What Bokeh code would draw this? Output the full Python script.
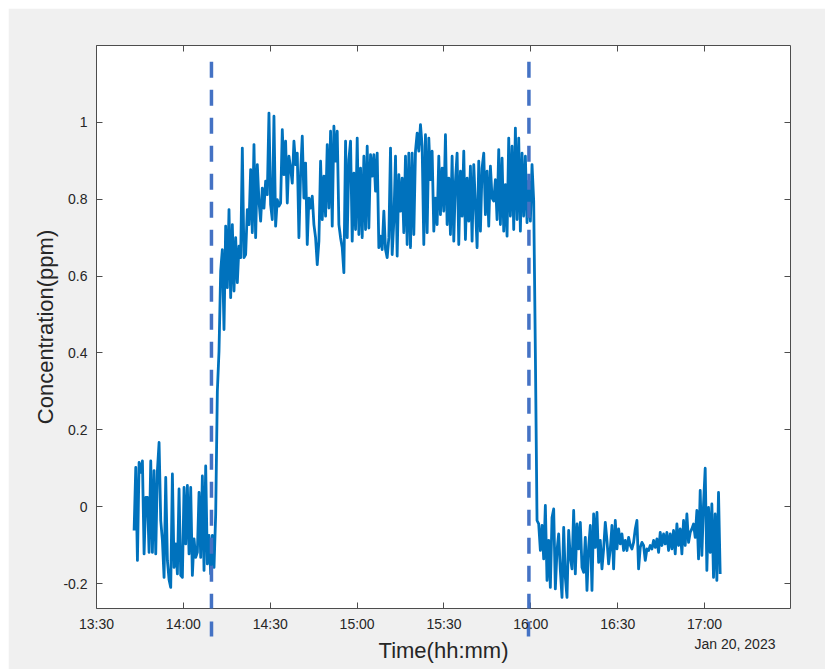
from datetime import datetime, timedelta

from bokeh.plotting import figure
from bokeh.models import (Range1d, FixedTicker, DatetimeTickFormatter, DatetimeAxis,
                          LinearAxis, Arrow)
from bokeh.embed import file_html
from bokeh.resources import INLINE

# ---------------- data ----------------
DAY = (2023, 1, 20)
first_sample = datetime(*DAY, 13, 42, 59)
sample_seconds = 34.5

baseline_before = [-0.062, 0.102, -0.140, 0.115, 0.089, 0.119, -0.123, 0.024, 0.024, -0.119,
                   0.119, -0.119, 0.094, -0.123, 0.094, 0.167, -0.036, -0.088, -0.184, 0.076,
                   -0.140, -0.190, -0.210, 0.085, -0.158, -0.097, -0.175, 0.046, -0.179, -0.184,
                   0.050, -0.097, 0.055, -0.123, 0.050, -0.179, -0.084, -0.132, -0.119, 0.037,
                   -0.132, 0.080, -0.166, 0.106, -0.149, -0.075, -0.175, -0.075, -0.158]
rise = [-0.020, 0.300]
plateau_early = [0.405, 0.613, 0.669, 0.461, 0.730, 0.570, 0.773, 0.544, 0.734, 0.561,
                 0.700, 0.583, 0.678, 0.648, 0.933, 0.648, 0.656, 0.773, 0.734, 0.877,
                 0.713, 0.942, 0.700, 0.890, 0.795, 0.743, 0.829, 0.777, 0.847, 0.812,
                 1.024, 0.786, 0.747, 1.016, 0.730, 0.799, 0.782, 0.790, 0.981, 0.864,
                 0.951, 0.790, 0.912, 0.881, 0.842, 0.951, 0.890, 0.920, 0.700, 0.868,
                 0.964, 0.803, 0.894, 0.682, 0.803, 0.777, 0.808, 0.734, 0.700, 0.630,
                 0.691, 0.899, 0.747, 0.860, 0.756, 0.942, 0.777, 0.977, 0.730, 0.990,
                 0.899, 0.977, 0.734, 0.700, 0.674, 0.609, 0.951, 0.700, 0.903, 0.951,
                 0.691, 0.868, 0.721, 0.959, 0.708, 0.881, 0.700]
plateau_late = [0.912, 0.721, 0.938, 0.725, 0.916, 0.860, 0.916, 0.821, 0.920, 0.674,
                0.704, 0.669, 0.769, 0.669, 0.648, 0.700, 0.933, 0.656, 0.743, 0.912,
                0.652, 0.864, 0.769, 0.855, 0.713, 0.912, 0.682, 0.920, 0.674, 0.920,
                0.708, 0.925, 0.972, 0.925, 0.994, 0.938, 0.682, 0.968, 0.713, 0.959,
                0.851, 0.925, 0.717, 0.803, 0.734, 0.912, 0.760, 0.881, 0.769, 0.968,
                0.734, 0.855, 0.708, 0.912, 0.691, 0.847, 0.920, 0.682, 0.873, 0.756,
                0.925, 0.695, 0.855, 0.743, 0.886, 0.691, 0.890, 0.786, 0.674, 0.899,
                0.717, 0.881, 0.920, 0.760, 0.873, 0.730, 0.886, 0.803, 0.795, 0.851,
                0.747, 0.929, 0.734, 0.907, 0.717, 0.838, 0.704, 0.959, 0.756, 0.938,
                0.721, 0.985, 0.747, 0.959, 0.717, 0.920, 0.756, 0.912, 0.739, 0.847,
                0.743, 0.890, 0.795]
fall = [0.400]
baseline_after = [-0.036, -0.045, -0.114, -0.049, -0.136, 0.003, -0.192, -0.088, -0.210, -0.028,
                  -0.006, -0.214, -0.114, -0.071, -0.166, -0.236, -0.054, -0.184, -0.236, -0.062,
                  -0.132, -0.162, -0.010, -0.175, -0.045, -0.110, -0.041, -0.158, -0.171, -0.080,
                  -0.218, -0.106, -0.049, -0.218, -0.019, -0.106, -0.015, -0.145, -0.088, -0.162,
                  -0.110, -0.041, -0.088, -0.149, -0.110, -0.049, -0.162, -0.036, -0.110, -0.058,
                  -0.097, -0.071, -0.114, -0.088, -0.114, -0.080, -0.101, -0.110, -0.093, -0.058,
                  -0.036, -0.162, -0.106, -0.093, -0.101, -0.140, -0.110, -0.114, -0.101, -0.110,
                  -0.088, -0.106, -0.084, -0.119, -0.067, -0.101, -0.071, -0.097, -0.067, -0.114,
                  -0.071, -0.110, -0.062, -0.123, -0.045, -0.101, -0.058, -0.123, -0.036, -0.101,
                  -0.019, -0.093, -0.067, -0.058, -0.045, -0.080, -0.010, -0.136, 0.042, -0.127,
                  0.007, 0.100, -0.166, -0.002, -0.119, 0.007, -0.184, -0.019, -0.192, 0.037,
                  -0.175]

event_times = [datetime(*DAY, 14, 9, 42), datetime(*DAY, 15, 59, 20)]
x_ticks = [datetime(*DAY, 13, 30) + timedelta(minutes=30 * k) for k in range(8)]
y_ticks = [-0.2, 0, 0.2, 0.4, 0.6, 0.8, 1]
y_tick_labels = ["-0.2", "0", "0.2", "0.4", "0.6", "0.8", "1"]
date_text = "Jan 20, 2023"
date_anchor = datetime(*DAY, 17, 10, 30)
x_start = datetime(*DAY, 13, 30)
x_end = datetime(*DAY, 17, 29, 40)
y_start, y_end = -0.265, 1.2

# ---------------- build ----------------
EPOCH = datetime(1970, 1, 1)


def ms(d):
    return (d - EPOCH).total_seconds() * 1000.0


values = baseline_before + rise + plateau_early + plateau_late + fall + baseline_after
times = [first_sample + timedelta(seconds=sample_seconds * i) for i in range(len(values))]

FONT = "Liberation Sans"
TXT = "#262626"
AX = "#4d4d4d"
EVENT = "#4472C4"

p = figure(width=817, height=661, x_axis_type="datetime",
           x_range=Range1d(x_start, x_end), y_range=Range1d(y_start, y_end),
           output_backend="svg", toolbar_location=None,
           min_border_left=88, min_border_right=35, min_border_top=37, min_border_bottom=61,
           background_fill_color="white", border_fill_color="#f0f0f0")
p.margin = (8, 0, 0, 8)
p.outline_line_color = None
p.grid.visible = False

xt = FixedTicker(ticks=[ms(t) for t in x_ticks], minor_ticks=[ms(t) for t in event_times])
fmt = DatetimeTickFormatter(minutes="%H:%M", hourmin="%H:%M", hours="%H:%M", days="%H:%M")
yt = FixedTicker(ticks=y_ticks)

xa = p.xaxis[0]
xa.ticker = xt
xa.formatter = fmt
ya = p.yaxis[0]
ya.ticker = yt
ya.major_label_overrides = {v: s for v, s in zip(y_ticks, y_tick_labels)}

top = DatetimeAxis(ticker=FixedTicker(ticks=[ms(t) for t in x_ticks]), formatter=fmt)
right = LinearAxis(ticker=yt)
p.add_layout(top, "above")
p.add_layout(right, "right")

for ax in (xa, ya, top, right):
    ax.axis_line_color = AX
    ax.axis_line_width = 1
    ax.major_tick_line_color = AX
    ax.major_tick_in = 6
    ax.major_tick_out = 0
    ax.minor_tick_line_color = None
    ax.major_label_text_font = FONT
    ax.major_label_text_font_size = "14px"
    ax.major_label_text_color = TXT
for ax in (top, right):
    ax.major_label_text_color = None

# continuation of the event markers below the axis line
xa.minor_tick_line_color = EVENT
xa.minor_tick_line_width = 3.5
xa.minor_tick_in = 0
xa.minor_tick_out = 28
xa.minor_tick_line_dash = "15 13"
xa.minor_tick_line_cap = "butt"

xa.major_label_standoff = -21      # labels measured from the end of the 28px minor ticks
ya.major_label_standoff = 9
ya.axis_label = "Concentration(ppm)"
ya.axis_label_text_font = FONT
ya.axis_label_text_font_size = "22px"
ya.axis_label_text_font_style = "normal"
ya.axis_label_text_color = TXT
ya.axis_label_standoff = 2

# second row below the time axis: date stamp and axis title
date_fmt = DatetimeTickFormatter(**{k: "%b %d, %Y" for k in
                                    ("seconds", "minsec", "minutes", "hourmin", "hours",
                                     "days", "months", "years")})
xb = DatetimeAxis(ticker=FixedTicker(ticks=[ms(date_anchor)]), formatter=date_fmt)
xb.major_label_overrides = {ms(date_anchor): date_text}
xb.axis_line_color = None
xb.major_tick_line_color = None
xb.minor_tick_line_color = None
xb.major_tick_in = 0
xb.major_tick_out = 0
xb.major_label_text_font = FONT
xb.major_label_text_font_size = "14px"
xb.major_label_text_color = TXT
xb.major_label_standoff = 1
xb.axis_label = "Time(hh:mm)"
xb.axis_label_text_font = FONT
xb.axis_label_text_font_size = "22px"
xb.axis_label_text_font_style = "normal"
xb.axis_label_text_color = TXT
xb.axis_label_standoff = -17
p.add_layout(xb, "below")

p.line(times, values, line_color="#0072BD", line_width=2.8, line_join="round")

for et in event_times:
    p.add_layout(Arrow(end=None, x_start=ms(et), y_start=1.158, x_end=ms(et), y_end=-0.345,
                       line_color=EVENT, line_width=3.5, line_dash="16 12"))

open("out.html", "w").write(file_html(p, INLINE))
